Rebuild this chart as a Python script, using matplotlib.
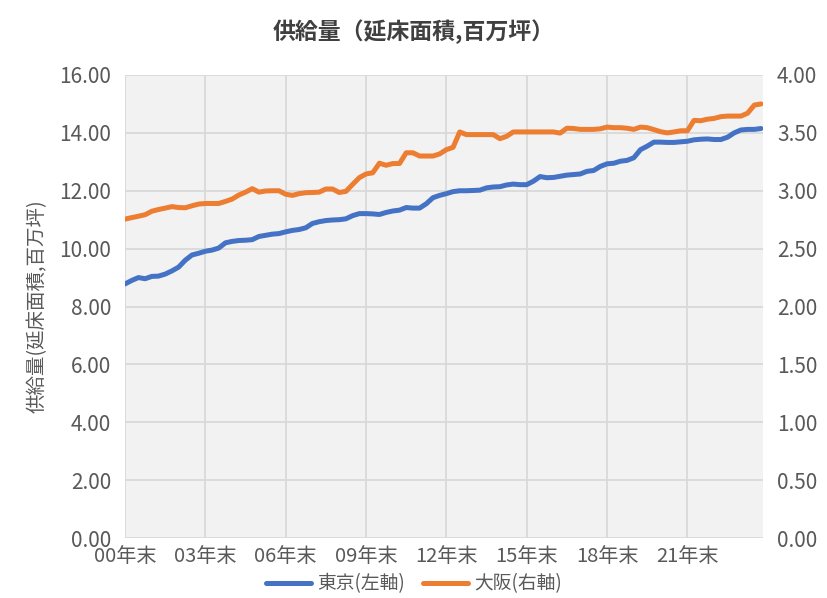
import numpy as np
import matplotlib
matplotlib.use("Agg")
import matplotlib.pyplot as plt

plt.rcParams["font.family"] = ["Noto Sans CJK JP", "DejaVu Sans"]

# quarterly points from 2000年末 (index 0), supply in 百万坪
tokyo = [8.78, 8.90, 9.00, 8.96, 9.04, 9.05, 9.12, 9.23, 9.36, 9.60,
         9.78, 9.84, 9.91, 9.95, 10.02, 10.20, 10.25, 10.28, 10.29, 10.31,
         10.42, 10.46, 10.50, 10.52, 10.58, 10.63, 10.66, 10.72, 10.87, 10.93,
         10.97, 10.99, 11.00, 11.03, 11.14, 11.21, 11.21, 11.20, 11.18, 11.25,
         11.30, 11.33, 11.42, 11.40, 11.40, 11.55, 11.76, 11.84, 11.90, 11.97,
         12.00, 12.00, 12.01, 12.02, 12.10, 12.13, 12.14, 12.20, 12.23, 12.21,
         12.21, 12.33, 12.49, 12.45, 12.46, 12.50, 12.54, 12.56, 12.58, 12.67,
         12.70, 12.84, 12.93, 12.95, 13.02, 13.05, 13.14, 13.42, 13.54, 13.68,
         13.68, 13.67, 13.67, 13.69, 13.71, 13.76, 13.78, 13.79, 13.77, 13.77,
         13.85, 14.00, 14.10, 14.12, 14.12, 14.15]
osaka = [2.755, 2.768, 2.780, 2.793, 2.823, 2.838, 2.850, 2.863, 2.855, 2.853,
         2.870, 2.885, 2.890, 2.890, 2.890, 2.908, 2.928, 2.963, 2.988, 3.018,
         2.988, 2.998, 3.000, 3.000, 2.970, 2.960, 2.975, 2.983, 2.985, 2.988,
         3.015, 3.015, 2.985, 2.995, 3.055, 3.113, 3.145, 3.155, 3.238, 3.220,
         3.235, 3.235, 3.328, 3.328, 3.300, 3.300, 3.300, 3.318, 3.355, 3.375,
         3.508, 3.485, 3.485, 3.485, 3.485, 3.485, 3.450, 3.470, 3.508, 3.508,
         3.508, 3.508, 3.508, 3.508, 3.508, 3.498, 3.540, 3.538, 3.530, 3.530,
         3.530, 3.535, 3.550, 3.545, 3.545, 3.540, 3.530, 3.550, 3.545, 3.528,
         3.510, 3.500, 3.508, 3.518, 3.518, 3.608, 3.605, 3.618, 3.625, 3.640,
         3.645, 3.645, 3.645, 3.670, 3.740, 3.750]
x_labels = ["00年末", "03年末", "06年末", "09年末", "12年末", "15年末", "18年末", "21年末"]
x_ticks = [0, 12, 24, 36, 48, 60, 72, 84]

BLUE = "#4472C4"
ORANGE = "#ED7D31"
TXT = "#595959"
GRID = "#D9D9D9"

fig = plt.figure(figsize=(8.28, 5.98), dpi=100)
ax = fig.add_axes([0.151, 0.1003, 0.7705, 0.7743])
ax.set_facecolor("#F2F2F2")
ax2 = ax.twinx()

x = np.arange(len(tokyo))
l1, = ax.plot(x, tokyo, color=BLUE, lw=3.6, solid_capstyle="round", zorder=3)
l2, = ax2.plot(x, osaka, color=ORANGE, lw=3.6, solid_capstyle="round", zorder=3)

ax.set_xlim(0, 95.3)
ax.set_ylim(0, 16)
ax2.set_ylim(0, 4)
ax.set_yticks(np.arange(0, 16.1, 2))
ax.set_yticklabels([f"{v:.2f}" for v in np.arange(0, 16.1, 2)])
ax2.set_yticks(np.arange(0, 4.01, 0.5))
ax2.set_yticklabels([f"{v:.2f}" for v in np.arange(0, 4.01, 0.5)])
ax.set_xticks(x_ticks)
ax.set_xticklabels(x_labels)

ax.grid(True, color=GRID, lw=1.3)
ax.set_axisbelow(True)
for a in (ax, ax2):
    for s in a.spines.values():
        s.set_visible(False)
    a.tick_params(length=0, labelsize=15, colors=TXT, pad=10)
ax.tick_params(axis="x", labelsize=14.5, pad=6)

ax.set_ylabel("供給量(延床面積,百万坪)", fontsize=14, color=TXT, labelpad=8)
fig.suptitle("供給量（延床面積,百万坪）", x=0.5, y=0.968, fontsize=16.5,
             fontweight="bold", color="#404040")

fig.legend([l1, l2], ["東京(左軸)", "大阪(右軸)"], loc="center",
           bbox_to_anchor=(0.5, 0.024), ncol=2, frameon=False, fontsize=13.5,
           handlelength=2.4, columnspacing=1.0, handletextpad=0.3,
           labelcolor=TXT)

fig.savefig("out.png", dpi=100, facecolor="white")
